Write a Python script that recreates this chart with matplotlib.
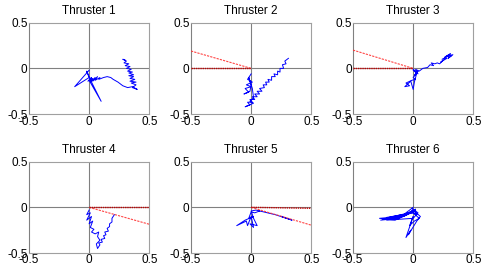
import matplotlib
matplotlib.use("Agg")
import matplotlib.pyplot as plt

plt.rcParams['font.family'] = ['Liberation Sans', 'DejaVu Sans']

titles = ["Thruster 1", "Thruster 2", "Thruster 3", "Thruster 4", "Thruster 5", "Thruster 6"]
tick_vals = [-0.5, 0, 0.5]
tick_labels = ["-0.5", "0", "0.5"]

# Blue trajectories (x, y)
t1_x = [0.0, -0.12, 0.0, -0.02, 0.02, 0.10, 0.0, 0.02, -0.01, 0.03, 0.01, 0.05, 0.03, 0.07, 0.05,
        0.09, 0.08, 0.12, 0.15, 0.18, 0.20, 0.24, 0.28, 0.32, 0.36, 0.40, 0.36, 0.39, 0.35, 0.39,
        0.34, 0.38, 0.34, 0.37, 0.33, 0.37, 0.33, 0.36, 0.32, 0.35, 0.31, 0.34, 0.30, 0.33, 0.29,
        0.31, 0.28, 0.30]
t1_y = [-0.02, -0.20, -0.10, -0.03, -0.15, -0.36, -0.13, -0.10, -0.14, -0.11, -0.15, -0.10, -0.14,
        -0.09, -0.13, -0.10, -0.12, -0.10, -0.09, -0.10, -0.12, -0.15, -0.19, -0.21, -0.20, -0.23,
        -0.21, -0.18, -0.16, -0.15, -0.14, -0.12, -0.11, -0.09, -0.08, -0.07, -0.05, -0.04, -0.03,
        -0.01, 0.0, 0.02, 0.03, 0.05, 0.06, 0.08, 0.10, 0.09]

t2_x = [0.0, -0.03, 0.01, -0.04, 0.0, -0.05, -0.02, -0.06, -0.01, 0.0, -0.02, 0.01, 0.02, -0.01,
        0.02, -0.05, -0.01, -0.03, 0.01, -0.01, 0.03, 0.01, 0.05, 0.03, 0.07, 0.05, 0.09, 0.07,
        0.11, 0.10, 0.13, 0.12, 0.15, 0.14, 0.17, 0.17, 0.20, 0.19, 0.22, 0.22, 0.24, 0.24, 0.27,
        0.26, 0.29, 0.28, 0.31]
t2_y = [-0.06, -0.12, -0.15, -0.18, -0.20, -0.22, -0.26, -0.28, -0.25, -0.18, -0.10, -0.22, -0.32,
        -0.36, -0.38, -0.42, -0.40, -0.37, -0.37, -0.34, -0.34, -0.31, -0.31, -0.28, -0.28, -0.25,
        -0.25, -0.22, -0.21, -0.18, -0.18, -0.15, -0.15, -0.12, -0.13, -0.09, -0.09, -0.06, -0.07,
        -0.03, -0.04, 0.0, 0.0, 0.04, 0.05, 0.08, 0.11]

t3_x = [0.0, 0.03, 0.01, 0.04, 0.0, 0.02, -0.01, -0.06, -0.03, -0.07, -0.02, 0.0, 0.01, 0.03, 0.0,
        0.04, 0.02, 0.05, 0.08, 0.12, 0.14, 0.17, 0.15, 0.18, 0.20, 0.22, 0.25, 0.23, 0.28, 0.24,
        0.30, 0.26, 0.31, 0.27, 0.33, 0.29, 0.32]
t3_y = [-0.01, -0.04, -0.08, -0.03, -0.10, -0.12, -0.13, -0.16, -0.19, -0.20, -0.14, -0.23, -0.15,
        -0.05, -0.02, -0.06, -0.01, -0.03, 0.0, 0.01, 0.04, 0.03, 0.06, 0.05, 0.06, 0.05, 0.09,
        0.07, 0.11, 0.10, 0.14, 0.12, 0.16, 0.13, 0.15, 0.11, 0.14]

t4_x = [0.0, -0.02, 0.01, -0.02, 0.02, 0.0, 0.03, 0.01, 0.04, 0.02, 0.05, 0.08, 0.07, 0.09, 0.06,
        0.07, 0.09, 0.08, 0.11, 0.10, 0.13, 0.12, 0.14, 0.13, 0.16, 0.15, 0.17, 0.17, 0.19, 0.19,
        0.21]
t4_y = [-0.03, -0.08, -0.06, -0.14, -0.10, -0.18, -0.15, -0.22, -0.24, -0.27, -0.29, -0.27, -0.32,
        -0.36, -0.40, -0.45, -0.41, -0.39, -0.38, -0.35, -0.34, -0.31, -0.30, -0.27, -0.26, -0.23,
        -0.21, -0.18, -0.16, -0.12, -0.08]

t5_x = [0.07, 0.03, 0.0, -0.02, 0.02, -0.05, -0.12, -0.04, -0.03, 0.0, 0.02, -0.01, 0.05, 0.02,
        0.0, 0.04, 0.20, 0.34, 0.25]
t5_y = [-0.04, -0.06, -0.05, -0.12, -0.10, -0.14, -0.20, -0.15, -0.20, -0.10, -0.22, -0.18, -0.20,
        -0.12, -0.04, -0.03, -0.08, -0.14, -0.10]

t6_x = [0.0, -0.10, -0.28, -0.15, 0.0, -0.20, -0.25, -0.05, 0.02, -0.12, -0.27, -0.08, 0.01,
        -0.18, -0.22, 0.0, 0.05, 0.01, -0.03, 0.0, -0.06, -0.02, -0.04, 0.03, 0.06, 0.0, -0.08,
        -0.22, 0.0, 0.04, -0.01, 0.03, -0.02, 0.02]
t6_y = [0.0, -0.10, -0.12, -0.14, -0.05, -0.11, -0.13, -0.07, -0.02, -0.12, -0.14, -0.10, -0.04,
        -0.13, -0.11, -0.06, -0.12, -0.15, -0.20, -0.10, -0.33, -0.25, -0.30, -0.15, -0.10, -0.03,
        -0.09, -0.14, -0.12, -0.06, -0.01, -0.08, -0.05, -0.03]

blue_x = [t1_x, t2_x, t3_x, t4_x, t5_x, t6_x]
blue_y = [t1_y, t2_y, t3_y, t4_y, t5_y, t6_y]

# Red reference lines (x pairs, y pairs) per panel
red_lines = {
    1: [([-0.5, 0.0], [0.19, 0.0]), ([-0.5, 0.0], [0.0, 0.0])],
    2: [([-0.5, 0.0], [0.20, 0.0]), ([-0.5, 0.0], [0.0, 0.0])],
    3: [([0.0, 0.5], [0.0, -0.185]), ([0.0, 0.5], [0.0, 0.0])],
    4: [([0.0, 0.5], [0.0, -0.195]), ([0.0, 0.5], [0.0, -0.01])],
}

fig = plt.figure(figsize=(4.91, 2.73), dpi=100)
lefts = [0.059, 0.389, 0.719]
bottoms = [0.582, 0.073]
w, h = 0.245, 0.335

for i in range(6):
    r, c = divmod(i, 3)
    ax = fig.add_axes([lefts[c], bottoms[r], w, h])
    ax.set_xlim(-0.5, 0.5)
    ax.set_ylim(-0.5, 0.5)
    ax.axhline(0, color='#808080', lw=0.8, zorder=1)
    ax.axvline(0, color='#808080', lw=0.8, zorder=1)
    ax.plot(blue_x[i], blue_y[i], color='#0000ff', lw=0.7, zorder=3)
    if i in red_lines:
        (x1, y1), (x2, y2) = red_lines[i]
        ax.plot(x1, y1, color='#ff3030', lw=0.8, ls=(0, (2, 1)), zorder=4, alpha=0.9)
        ax.plot(x2, y2, color='#c00000', lw=1.0, ls=(0, (1, 0.6)), zorder=4)
    ax.set_xticks(tick_vals)
    ax.set_xticklabels(tick_labels)
    ax.set_yticks(tick_vals)
    ax.set_yticklabels(tick_labels)
    ax.tick_params(length=0, pad=1, labelsize=8.5)
    for s in ax.spines.values():
        s.set_color('#a0a0a0')
        s.set_linewidth(0.8)
    ax.spines['left'].set_color('#808080')
    ax.set_title(titles[i], fontsize=8.5, pad=6)

fig.savefig("out.png", dpi=100)
